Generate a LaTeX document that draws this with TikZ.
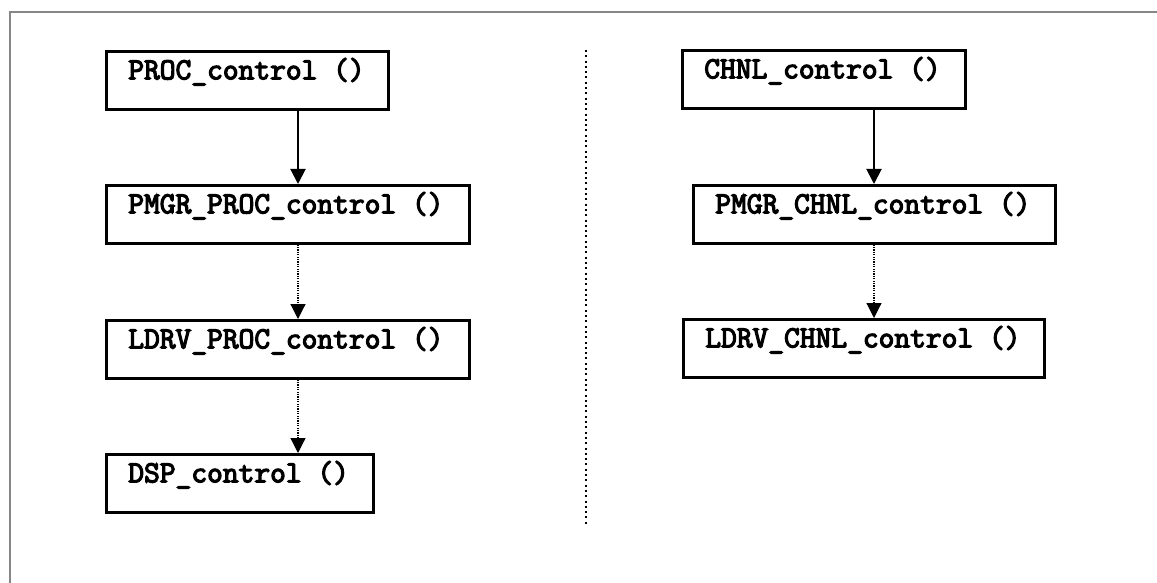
\documentclass[tikz,border=0pt]{standalone}
\usepackage{fontspec}
\newfontfamily\codefont{Latin Modern Mono}[FakeBold=4]
\usetikzlibrary{arrows.meta}
\newcommand{\fnlabel}[2]{\makebox[#1][l]{#2}}
\begin{document}
\begin{tikzpicture}[x=1pt,y=-1pt,
  fn/.style={draw, line width=2.6pt, anchor=north west, inner xsep=22pt, inner ysep=0pt,
    text height=28pt, text depth=30pt,
    font=\codefont\fontsize{30.6}{32}\selectfont},
  callarrow/.style={line width=2pt, -{Triangle[length=15pt,width=15pt]}},
  maybearrow/.style={line width=1.2pt, dash pattern=on 1.2pt off 1.2pt, -{Triangle[length=15pt,width=15pt]}},
  frameline/.style={draw=black!47, line width=2pt},
  separator/.style={line width=2pt, dash pattern=on 2pt off 3.3pt}]
\useasboundingbox (0,0) rectangle (1157,583);
% outer frame (cropped at right and bottom)
\coordinate (fa) at (10,590);
\coordinate (fb) at (10,12);
\coordinate (fc) at (1160,12);
\draw[frameline] (fa) -- (fb) -- (fc);
% separator
\coordinate (s1) at (586,50);
\coordinate (s2) at (586,526);
\draw[separator] (s1) -- (s2);
% left column
\node[fn] (p1) at (105,50)  {\fnlabel{238pt}{PROC\_control ()}};
\node[fn] (p2) at (105,184) {\fnlabel{319pt}{PMGR\_PROC\_control ()}};
\node[fn] (p3) at (105,319) {\fnlabel{319pt}{LDRV\_PROC\_control ()}};
\node[fn] (p4) at (105,453) {\fnlabel{223pt}{DSP\_control ()}};
% right column
\node[fn] (c1) at (681,49)  {\fnlabel{239pt}{CHNL\_control ()}};
\node[fn] (c2) at (692,184) {\fnlabel{318pt}{PMGR\_CHNL\_control ()}};
\node[fn] (c3) at (682,318) {\fnlabel{317pt}{LDRV\_CHNL\_control ()}};
% arrow columns
\coordinate (lx) at (298,0);
\coordinate (rx) at (874,0);
\draw[callarrow]  (p1.south -| lx) -- (p2.north -| lx);
\draw[maybearrow] (p2.south -| lx) -- (p3.north -| lx);
\draw[maybearrow] (p3.south -| lx) -- (p4.north -| lx);
\draw[callarrow]  (c1.south -| rx) -- (c2.north -| rx);
\draw[maybearrow] (c2.south -| rx) -- (c3.north -| rx);
\end{tikzpicture}
\end{document}
